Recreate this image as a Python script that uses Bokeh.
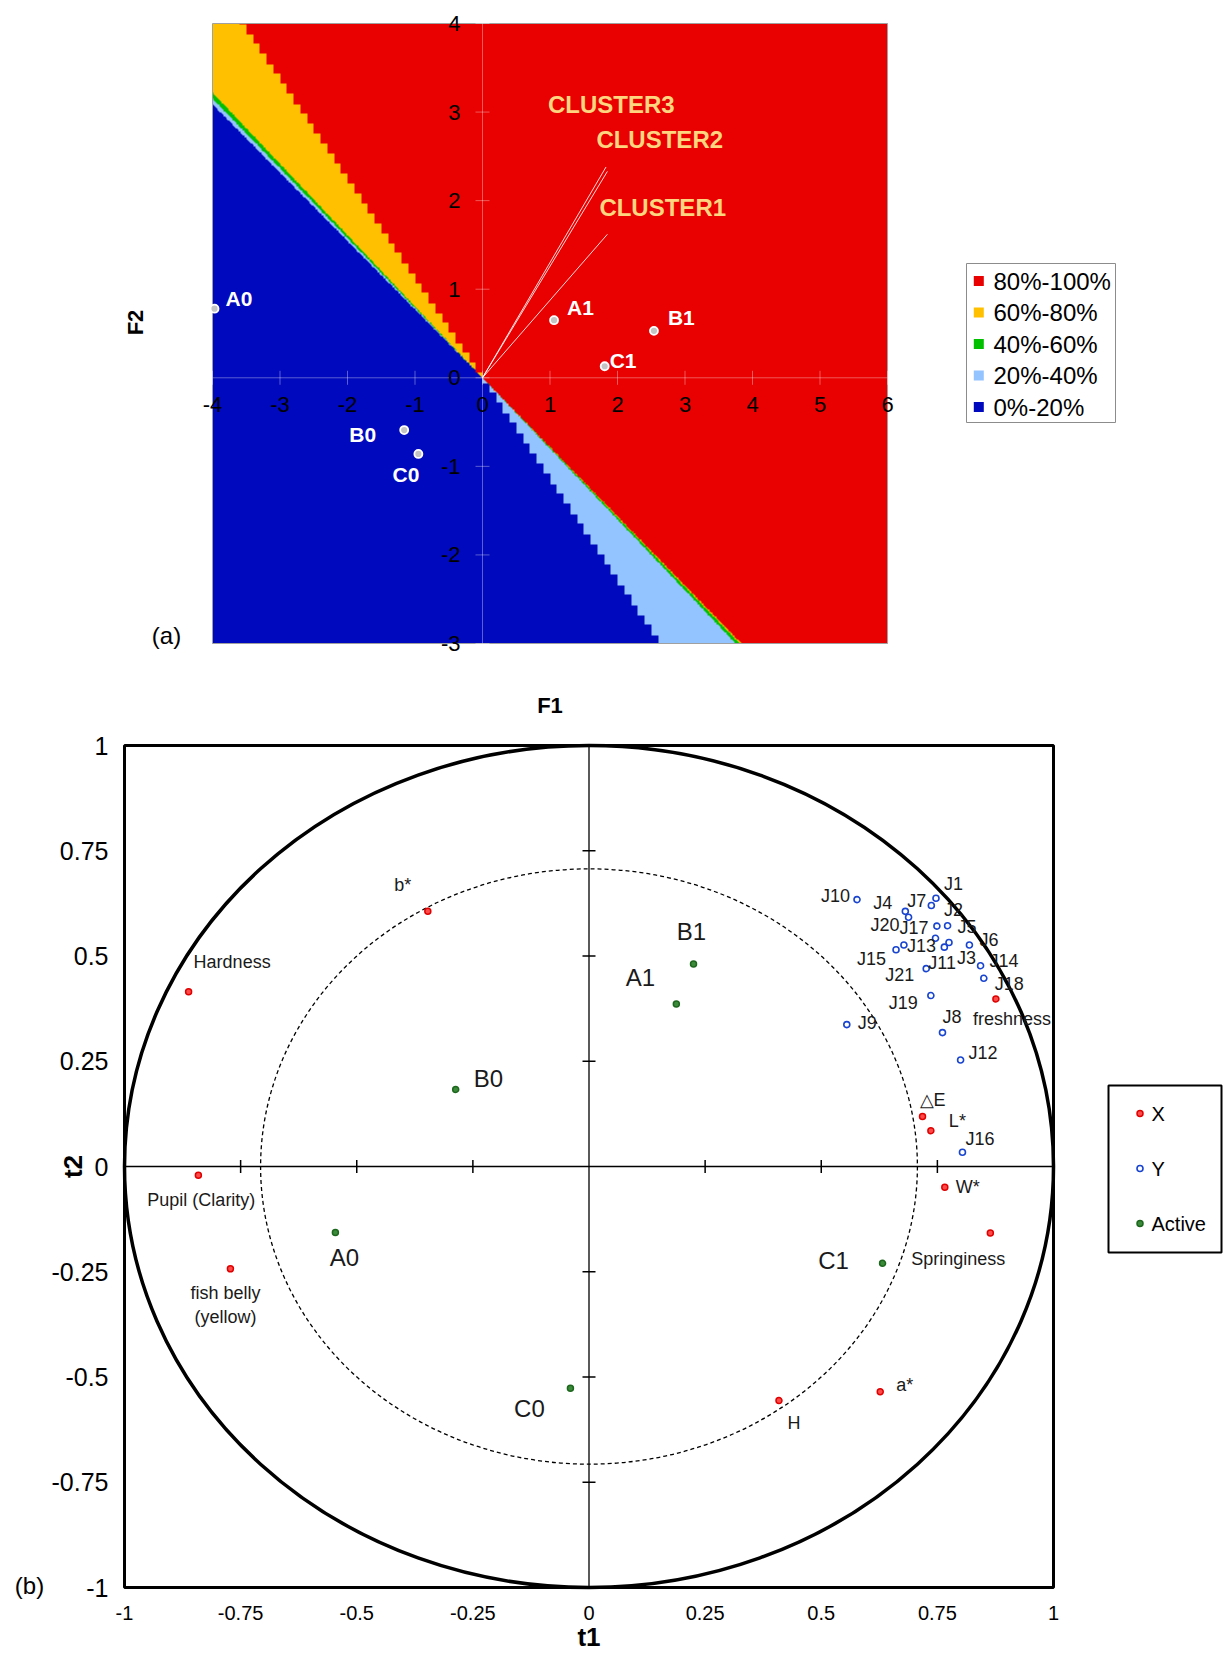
import numpy as np
from bokeh.plotting import figure
from bokeh.models import Range1d, LinearColorMapper, ColumnDataSource
from bokeh.layouts import column, row
from bokeh.embed import file_html
from bokeh.resources import INLINE
from bokeh.core.properties import value

FONT = "Liberation Sans"

# ------------------------------------------------------------------ data (a)
BAND_LABELS = ["80%-100%", "60%-80%", "40%-60%", "20%-40%", "0%-20%"]
BAND_COLORS = ["#E90000", "#FFC000", "#00C000", "#94C4FF", "#0009BD"]
# boundary slopes |F2/F1|
UL_SLOPES = [1.125, 0.805, 0.788, 0.772]   # quadrant F1<0, F2>0
LR_SLOPES = [0.782, 0.787, 0.800, 1.140]   # quadrant F1>0, F2<0
GRID_STEP = 0.1

OBS_NAMES = ["A0", "A1", "B0", "B1", "C0", "C1"]
OBS_F1 = [-3.97, 1.06, -1.16, 2.54, -0.95, 1.81]
OBS_F2 = [0.78, 0.65, -0.59, 0.53, -0.86, 0.13]

CLUSTER_NAMES = ["CLUSTER1", "CLUSTER2", "CLUSTER3"]
CLUSTER_F1 = [1.85, 1.85, 1.83]
CLUSTER_F2 = [1.62, 2.33, 2.38]

F1_TICKS = [-4, -3, -2, -1, 0, 1, 2, 3, 4, 5, 6]
F2_TICKS = [-3, -2, -1, 0, 1, 2, 3, 4]

# ------------------------------------------------------------------ data (b)
X_NAMES = ["b*", "Hardness", "Pupil (Clarity)", "fish belly\n(yellow)", "freshness",
           "\u25b3E", "L*", "W*", "Springiness", "a*", "H"]
X_T1 = [-0.347, -0.862, -0.841, -0.772, 0.876, 0.718, 0.736, 0.766, 0.864, 0.627, 0.409]
X_T2 = [0.606, 0.415, -0.021, -0.243, 0.398, 0.119, 0.085, -0.049, -0.158, -0.535, -0.556]

Y_NAMES = ["J%d" % i for i in range(1, 22)]
Y_T1 = [0.747, 0.749, 0.775, 0.681, 0.772, 0.819, 0.737, 0.761, 0.555, 0.577, 0.765,
        0.800, 0.678, 0.843, 0.661, 0.804, 0.746, 0.850, 0.736, 0.688, 0.726]
Y_T2 = [0.637, 0.571, 0.532, 0.606, 0.572, 0.526, 0.620, 0.318, 0.337, 0.634, 0.521,
        0.253, 0.526, 0.477, 0.515, 0.034, 0.542, 0.447, 0.406, 0.592, 0.470]

ACT_NAMES = ["A0", "A1", "B0", "B1", "C0", "C1"]
ACT_T1 = [-0.546, 0.188, -0.287, 0.225, -0.040, 0.632]
ACT_T2 = [-0.157, 0.386, 0.183, 0.481, -0.527, -0.230]

LEG2_LABELS = ["X", "Y", "Active"]
T_TICKS = [-1, -0.75, -0.5, -0.25, 0, 0.25, 0.5, 0.75, 1]
T_TICK_LABELS = ["-1", "-0.75", "-0.5", "-0.25", "0", "0.25", "0.5", "0.75", "1"]
INNER_R = 0.707

# ------------------------------------------------------------------ label layout (px offsets)
OBS_LAB = [(11, -10, "left"), (13, -13, "left"), (-28, 4, "right"),
           (14, -13, "left"), (1, 21, "right"), (5, -6, "left")]
CLU_LAB = [(-8, -27, "left"), (-11, -32, "left"), (-58, -62, "left")]
X_LAB = [(-25, -26, "center"), (5, -30, "left"), (3, 25, "center"), (-5, 36, "center"),
         (-23, 20, "left"), (-3, -16, "left"), (18, -10, "left"), (11, 0, "left"),
         (-32, 26, "center"), (16, -7, "left"), (15, 22, "center")]
Y_LAB = [(8, -14, "left"), (7, -16, "left"), (8, 15, "left"), (-13, -8, "right"),
         (10, 1, "left"), (10, -5, "left"), (-5, -4, "right"), (0, -16, "left"),
         (11, -2, "left"), (-7, -4, "right"), (-16, 16, "left"), (8, -7, "left"),
         (3, 1, "left"), (9, -5, "left"), (-10, 9, "right"), (3, -13, "left"),
         (-7, -10, "right"), (11, 6, "left"), (-13, 7, "right"), (-9, 8, "right"),
         (-12, 6, "right")]
ACT_LAB = [(9, 25, "center"), (-36, -26, "center"), (18, -11, "left"),
           (-2, -32, "center"), (-41, 20, "center"), (-49, -3, "center")]


def add_labels(p, xs, ys, names, lay, size, color, bold=False):
    for al in ("left", "center", "right"):
        idx = [i for i, l in enumerate(lay) if l[2] == al]
        if not idx:
            continue
        src = ColumnDataSource(dict(
            x=[xs[i] for i in idx], y=[ys[i] for i in idx], text=[names[i] for i in idx],
            dx=[lay[i][0] for i in idx], dy=[lay[i][1] for i in idx]))
        p.text(x="x", y="y", text="text", x_offset="dx", y_offset="dy", source=src,
               text_align=al, text_baseline="middle", text_font=value(FONT),
               text_font_size=size, text_color=color,
               text_font_style="bold" if bold else "normal", text_line_height=1.2)


def txt(p, x, y, text, size, dx=0, dy=0, align="center", bold=False, angle=0, color="black"):
    p.text(x=x, y=y, text=text, x_offset=dx, y_offset=dy, angle=angle,
           text_align=align, text_baseline="middle", text_font=value(FONT),
           text_font_size=size, text_color=color,
           text_font_style="bold" if bold else "normal")


def bare(**kw):
    f = figure(output_backend="svg", toolbar_location=None, min_border=0,
               x_axis_location=None, y_axis_location=None, **kw)
    f.grid.visible = False
    f.outline_line_color = None
    return f


# ------------------------------------------------------------------ panel (a)
FX0, FX1, FY0, FY1 = F1_TICKS[0], F1_TICKS[-1], F2_TICKS[0], F2_TICKS[-1]
nx, ny = 1000, 700
xs = FX0 + (np.arange(nx) + 0.5) * (FX1 - FX0) / nx
ys = FY0 + (np.arange(ny) + 0.5) * (FY1 - FY0) / ny
X, Y = np.meshgrid(xs, ys)
XQ = (np.floor((X - FX0) / GRID_STEP) + 0.5) * GRID_STEP + FX0
field = np.zeros((ny, nx), dtype=np.uint8)
ul = (X < 0) & (Y > 0)
c = np.full((ny, nx), 4, dtype=np.uint8)
c = np.where(Y >= UL_SLOPES[3] * -X, 3, c)
c = np.where(Y >= UL_SLOPES[2] * -X, 2, c)
c = np.where(Y >= UL_SLOPES[1] * -X, 1, c)
c = np.where(Y >= UL_SLOPES[0] * -XQ, 0, c)
field = np.where(ul, c, field)
lr = (X >= 0) & (Y < 0)
d = -Y
c = np.full((ny, nx), 4, dtype=np.uint8)
c = np.where(d <= LR_SLOPES[3] * XQ, 3, c)
c = np.where(d <= LR_SLOPES[2] * X, 2, c)
c = np.where(d <= LR_SLOPES[1] * X, 1, c)
c = np.where(d <= LR_SLOPES[0] * X, 0, c)
field = np.where(lr, c, field)
field = np.where((X < 0) & (Y <= 0), 4, field).astype(np.uint8)

# panel (a): field occupies 675 x 620 px; margins around it (px)
PXX, PXY = 675 / (FX1 - FX0), 620 / (FY1 - FY0)
p1 = bare(width=940, height=720,
          x_range=Range1d(FX0 - 212 / PXX, FX1 + 53 / PXX),
          y_range=Range1d(FY0 - 77 / PXY, FY1 + 23 / PXY))
p1.image(image=[field], x=FX0, y=FY0, dw=FX1 - FX0, dh=FY1 - FY0,
         color_mapper=LinearColorMapper(palette=BAND_COLORS, low=-0.5, high=4.5))
p1.quad(left=[FX0], right=[FX1], bottom=[FY0], top=[FY1], fill_color=None,
        line_color="#a0a0a0", line_width=1)
# centre axes
p1.segment(x0=[FX0, 0], y0=[0, FY0], x1=[FX1, 0], y1=[0, FY1],
           line_color="white", line_alpha=0.35, line_width=1)
p1.scatter(x=F1_TICKS, y=[0] * len(F1_TICKS), marker="dash", angle=np.pi / 2, size=14,
           line_color="white", line_alpha=0.35, line_width=1)
p1.scatter(x=[0] * len(F2_TICKS), y=F2_TICKS, marker="dash", size=14,
           line_color="white", line_alpha=0.35, line_width=1)
txt(p1, F1_TICKS, [0] * len(F1_TICKS), [str(t) for t in F1_TICKS], "22px", dy=27)
txt(p1, [0] * len(F2_TICKS), F2_TICKS, [str(t) for t in F2_TICKS], "22px", dx=-22, align="right")

p1.segment(x0=0, y0=0, x1=CLUSTER_F1, y1=CLUSTER_F2, line_color="white",
           line_width=1, line_alpha=0.85)
add_labels(p1, CLUSTER_F1, CLUSTER_F2, CLUSTER_NAMES, CLU_LAB, "24px", "#FFD580", bold=True)
p1.scatter(OBS_F1, OBS_F2, marker="circle", size=8, fill_color="#c4c4c4",
           line_color="white", line_width=1.8)
add_labels(p1, OBS_F1, OBS_F2, OBS_NAMES, OBS_LAB, "21px", "white", bold=True)

txt(p1, [FX0], [(FY0 + FY1) / 2], ["F2"], "22px", dx=-77, dy=-11, bold=True, angle=np.pi / 2)
txt(p1, [(FX0 + FX1) / 2], [FY0], ["F1"], "22px", dy=62, bold=True)
txt(p1, [FX0], [FY0], ["(a)"], "24px", dx=-46, dy=-8)

# legend (a)
pleg1 = bare(width=283, height=720, x_range=Range1d(0, 283), y_range=Range1d(720, 0))
pleg1.quad(left=[26], right=[175], top=[263], bottom=[422], fill_color="white",
           line_color="#8c8c8c", line_width=1)
rows1 = [263 + 17.5 + 31.5 * i for i in range(len(BAND_LABELS))]
pleg1.scatter(x=[38.3] * len(rows1), y=rows1, marker="square", size=10,
              fill_color=BAND_COLORS, line_color=None)
pleg1.text(x=[53] * len(rows1), y=rows1, text=BAND_LABELS, text_baseline="middle",
           text_font=value(FONT), text_font_size="24px", text_color="black")

# ------------------------------------------------------------------ panel (b)
TX0, TX1 = T_TICKS[0], T_TICKS[-1]
PX2, PY2 = 929 / (TX1 - TX0), 842 / (TX1 - TX0)
p2 = bare(width=1100, height=933,
          x_range=Range1d(TX0 - 124 / PX2, TX1 + 47 / PX2),
          y_range=Range1d(TX0 - 66 / PY2, TX1 + 25 / PY2))
p2.quad(left=[TX0], right=[TX1], bottom=[TX0], top=[TX1], fill_color=None,
        line_color="black", line_width=3)
txt(p2, T_TICKS, [TX0] * len(T_TICKS), T_TICK_LABELS, "20px", dy=25)
txt(p2, [TX0] * len(T_TICKS), T_TICKS, T_TICK_LABELS, "25px", dx=-16, align="right")

p2.segment(x0=[TX0, 0], y0=[0, TX0], x1=[TX1, 0], y1=[0, TX1],
           line_color="black", line_width=[1.6, 1.3])
inner_ticks = [t for t in T_TICKS if t not in (TX0, 0, TX1)]
p2.scatter(x=inner_ticks, y=[0] * len(inner_ticks), marker="dash", angle=np.pi / 2,
           size=13, line_color="black", line_width=1.5)
p2.scatter(x=[0] * len(inner_ticks), y=inner_ticks, marker="dash",
           size=13, line_color="black", line_width=1.5)

p2.ellipse(x=[0], y=[0], width=[TX1 - TX0], height=[TX1 - TX0], fill_color=None,
           line_color="black", line_width=3.5)
p2.ellipse(x=[0], y=[0], width=[2 * INNER_R], height=[2 * INNER_R], fill_color=None,
           line_color="black", line_width=1.3, line_dash="4 3")

STY_X = dict(marker="circle", size=6, fill_color="#ff4a4a", line_color="#e00000", line_width=1.5)
STY_Y = dict(marker="circle", size=6, fill_color="white", line_color="#1844d0", line_width=1.6)
STY_A = dict(marker="circle", size=6, fill_color="#3a8a3a", line_color="#1d661d", line_width=1.5)

p2.scatter(X_T1, X_T2, **STY_X)
p2.scatter(Y_T1, Y_T2, **STY_Y)
p2.scatter(ACT_T1, ACT_T2, **STY_A)
add_labels(p2, X_T1, X_T2, X_NAMES, X_LAB, "18px", "#1a1a1a")
add_labels(p2, Y_T1, Y_T2, Y_NAMES, Y_LAB, "18px", "#1a1a1a")
add_labels(p2, ACT_T1, ACT_T2, ACT_NAMES, ACT_LAB, "24px", "#1a1a1a")

txt(p2, [TX0], [0], ["t2"], "26px", dx=-52, bold=True, angle=np.pi / 2)
txt(p2, [0], [TX0], ["t1"], "26px", dy=49, bold=True)
txt(p2, [TX0], [TX0], ["(b)"], "24px", dx=-95, dy=-2)

# legend (b)
pleg2 = bare(width=123, height=933, x_range=Range1d(0, 123), y_range=Range1d(933, 0))
pleg2.quad(left=[8], right=[121], top=[365], bottom=[532], fill_color="white",
           line_color="black", line_width=2)
rows2 = [365 + 28 + 55 * i for i in range(len(LEG2_LABELS))]
for yy, sty in zip(rows2, (STY_X, STY_Y, STY_A)):
    pleg2.scatter(x=[39.5], y=[yy], **sty)
pleg2.text(x=[51] * len(rows2), y=rows2, text=LEG2_LABELS, text_baseline="middle",
           text_font=value(FONT), text_font_size="20px", text_color="black")

layout = column(row(p1, pleg1), row(p2, pleg2))
open("out.html", "w").write(file_html(layout, INLINE))
